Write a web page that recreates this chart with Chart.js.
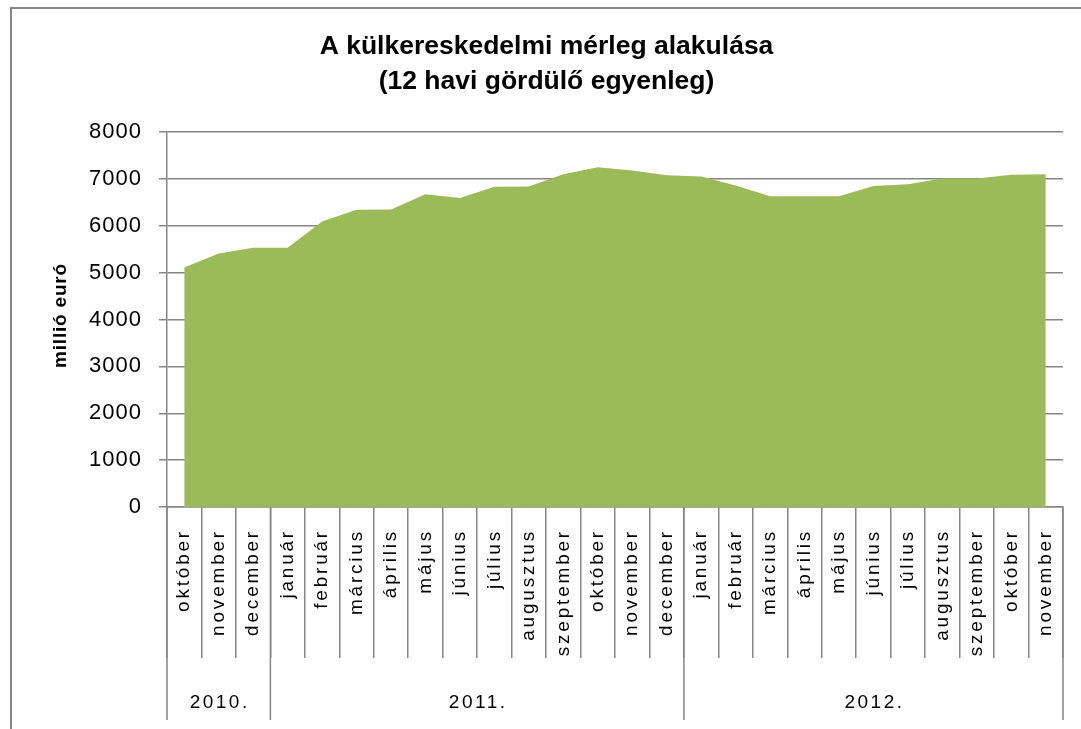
<!DOCTYPE html>
<html>
<head>
<meta charset="utf-8">
<script src="https://cdn.jsdelivr.net/npm/chart.js@4.4.0/dist/chart.umd.min.js"></script>
<style>
html,body{margin:0;padding:0;background:#fff;}
canvas{display:block;}
</style>
</head>
<body>
<canvas id="c" width="1081" height="729"></canvas>
<script>
// ---- data ----
const months = ['október','november','december','január','február','március','április','május','június','július','augusztus','szeptember','október','november','december','január','február','március','április','május','június','július','augusztus','szeptember','október','november'];
const values = [5110, 5410, 5530, 5530, 6090, 6340, 6345, 6670, 6590, 6830, 6840, 7100, 7250, 7180, 7080, 7050, 6860, 6630, 6630, 6630, 6850, 6885, 7010, 7010, 7090, 7100];
const yearLabels = ['2010.', '2011.', '2012.'];
const yearSpans = [3, 12, 11];
const yMin = 0, yMax = 8000, yStep = 1000;
const titleLines = ['A külkereskedelmi mérleg alakulása', '(12 havi gördülő egyenleg)'];
const yAxisTitle = 'millió euró';

// ---- styles ----
const GRID = '#868686';
const FILL = '#9BBB59';
const FONT = "'Liberation Sans', Arial, sans-serif";

function wrapDraw(obj, method, fn) {
  const orig = obj[method];
  obj[method] = function () {
    const c = this.ctx;
    c.save();
    fn(c);
    orig.apply(this, arguments);
    c.restore();
  };
}

const decor = {
  id: 'decor',
  beforeDraw(chart) {
    const ctx = chart.ctx;
    // outer chart border (top + left visible)
    ctx.save();
    ctx.strokeStyle = GRID;
    ctx.lineWidth = 2;
    ctx.beginPath();
    ctx.moveTo(11, 729);
    ctx.lineTo(11, 8);
    ctx.lineTo(1081, 8);
    ctx.stroke();
    ctx.restore();
    const xs = chart.scales.x, ys = chart.scales.y;
    if (!xs._patched) {
      wrapDraw(xs, 'drawLabels', c => { try { c.letterSpacing = '2.8px'; } catch (e) {} });
      wrapDraw(ys, 'drawLabels', c => { try { c.letterSpacing = '1px'; } catch (e) {} });
      wrapDraw(ys, 'drawTitle', c => { try { c.letterSpacing = '0.8px'; } catch (e) {} c.translate(1, -4); });
      if (chart.titleBlock) wrapDraw(chart.titleBlock, 'draw', c => { c.translate(15, 0); });
      xs._patched = true;
    }
  },
  afterDraw(chart) {
    const ctx = chart.ctx;
    const xs = chart.scales.x;
    const n = months.length;
    const boundary = (k) => {
      if (k <= 0) return xs.left;
      if (k >= n) return xs.right;
      return (xs.getPixelForValue(k - 1) + xs.getPixelForValue(k)) / 2;
    };
    ctx.save();
    ctx.strokeStyle = GRID;
    ctx.lineWidth = 1.5;
    let k = 0;
    const bounds = [0];
    yearSpans.forEach(s => { k += s; bounds.push(k); });
    bounds.forEach(b => {
      const px = boundary(b);
      ctx.beginPath();
      ctx.moveTo(px, xs.top);
      ctx.lineTo(px, xs.top + 213);
      ctx.stroke();
    });
    ctx.fillStyle = '#000';
    ctx.font = '19px ' + FONT;
    try { ctx.letterSpacing = '2.5px'; } catch (e) {}
    ctx.textAlign = 'center';
    ctx.textBaseline = 'middle';
    yearLabels.forEach((lab, i) => {
      const cx = (boundary(bounds[i]) + boundary(bounds[i + 1])) / 2;
      ctx.fillText(lab, cx + 1, xs.top + 196);
    });
    ctx.restore();
  }
};

new Chart(document.getElementById('c'), {
  type: 'line',
  data: {
    labels: months,
    datasets: [{
      data: values,
      fill: 'origin',
      backgroundColor: FILL,
      borderColor: FILL,
      borderWidth: 0,
      pointRadius: 0,
      tension: 0
    }]
  },
  options: {
    responsive: false,
    animation: false,
    layout: { padding: { left: 0, right: 18, top: 0, bottom: 0 } },
    plugins: {
      legend: { display: false },
      tooltip: { enabled: false },
      title: {
        display: true,
        text: titleLines,
        color: '#000',
        font: { family: FONT, size: 26.5, weight: 'bold', lineHeight: '35px' },
        padding: { top: 29, bottom: 33 }
      }
    },
    scales: {
      x: {
        offset: true,
        afterFit(s) { s.height = 222; },
        grid: {
          offset: true,
          drawOnChartArea: false,
          drawTicks: true,
          tickLength: 151,
          color: GRID,
          lineWidth: 1.5
        },
        border: { display: true, color: GRID, width: 1.5 },
        ticks: {
          autoSkip: false,
          minRotation: 90,
          maxRotation: 90,
          padding: -129,
          color: '#000',
          font: { family: FONT, size: 19 }
        }
      },
      y: {
        min: yMin,
        max: yMax,
        afterFit(s) { s.width = 167; },
        grid: { color: GRID, lineWidth: 1.5, tickLength: 8, drawTicks: true },
        border: { display: true, color: GRID, width: 1.5 },
        ticks: {
          stepSize: yStep,
          padding: 17,
          color: '#000',
          font: { family: FONT, size: 22 },
          callback: (v) => String(v)
        },
        title: {
          display: true,
          text: yAxisTitle,
          color: '#000',
          font: { family: FONT, size: 19, weight: 'bold' },
          padding: { top: 48, bottom: 0 }
        }
      }
    }
  },
  plugins: [decor]
});
</script>
</body>
</html>
